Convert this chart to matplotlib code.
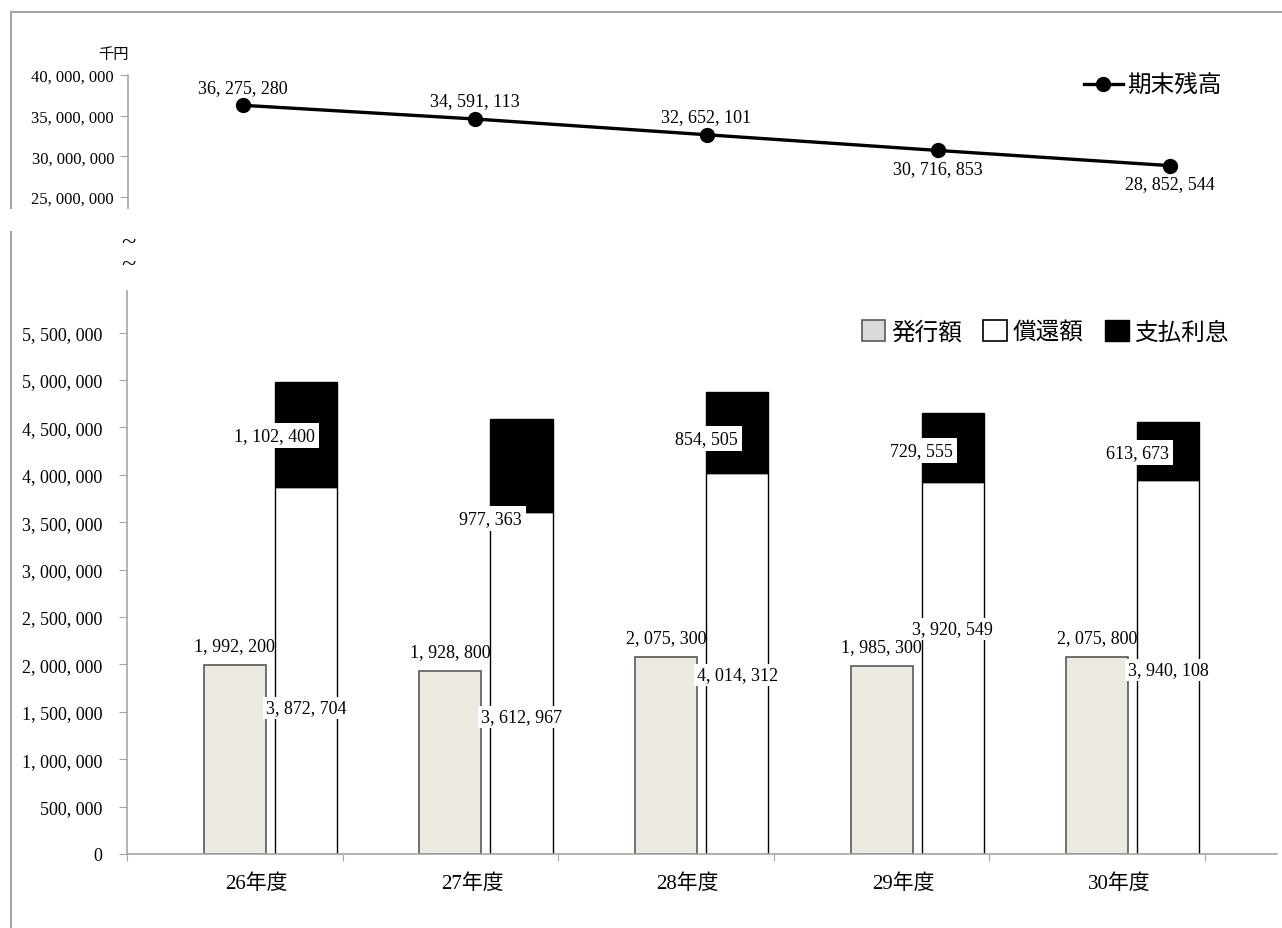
import matplotlib.pyplot as plt
from matplotlib.lines import Line2D
from matplotlib.patches import Patch, Rectangle

plt.rcParams['font.family'] = ['Liberation Serif', 'Noto Sans CJK JP']

years = ['26年度', '27年度', '28年度', '29年度', '30年度']
balance = [36275280, 34591113, 32652101, 30716853, 28852544]
issued = [1992200, 1928800, 2075300, 1985300, 2075800]
repaid = [3872704, 3612967, 4014312, 3920549, 3940108]
interest = [1102400, 977363, 854505, 729555, 613673]

# label heights were placed by hand in the original chart
repaid_label_y = [1541000, 1446000, 1890000, 2375000, 1942000]
interest_label_y = [4413000, 3536000, 4381000, 4254000, 4233000]
balance_label_pos = ['above', 'above', 'above', 'below', 'below']

gray = '#a6a6a6'


def fmt(v):
    return f'{v:,.0f}'.replace(',', ', ')


W, H = 1282, 929
fig = plt.figure(figsize=(W / 100, H / 100), dpi=100)

# outer frame (only left and top edges show)
fig.add_artist(Line2D([11 / W, 11 / W], [0, 1 - 13 / H], transform=fig.transFigure, color=gray, lw=1.5))
fig.add_artist(Line2D([11 / W, 1], [1 - 13 / H, 1 - 13 / H], transform=fig.transFigure, color=gray, lw=1.5))
fig.add_artist(Rectangle((5 / W, 1 - 232 / H), 130 / W, 22 / H, transform=fig.transFigure,
                         facecolor='white', edgecolor='none', zorder=5))

# ---- top: balance line ----
ax1 = fig.add_axes([128 / W, 1 - 210 / H, 1154 / W, 134 / H])
x = list(range(len(years)))
ax1.plot(x, balance, color='black', lw=2.4, marker='o', ms=10, label='期末残高')
ax1.set_xlim(-0.496, 4.483)
ax1.set_ylim(23.52e6, 40e6)
ticks1 = [25000000, 30000000, 35000000, 40000000]
ax1.set_yticks(ticks1)
ax1.set_yticklabels([fmt(t) for t in ticks1])
ax1.set_xticks([])
for s in ['top', 'right', 'bottom']:
    ax1.spines[s].set_visible(False)
ax1.spines['left'].set_color(gray)
ax1.spines['left'].set_linewidth(1.2)
ax1.tick_params(axis='y', direction='out', length=6, color=gray, labelsize=12, pad=4)
for i, v in enumerate(balance):
    dy = 13 if balance_label_pos[i] == 'above' else -13
    ax1.annotate(fmt(v), (i, v), xytext=(0, dy), textcoords='offset points',
                 ha='center', va='center', fontsize=13)
ax1.legend(loc='center right', bbox_to_anchor=(1222 / W, 1 - 87 / H), bbox_transform=fig.transFigure,
           frameon=False, fontsize=17, handlelength=1.65, handletextpad=0.2,
           borderpad=0, borderaxespad=0)

fig.text(113 / W, 1 - 55 / H, '千円', ha='center', va='center', fontsize=11)
# axis break marks
fig.text(128 / W, 1 - 243 / H, '~', ha='center', va='center', fontsize=19)
fig.text(128 / W, 1 - 265 / H, '~', ha='center', va='center', fontsize=19)

# ---- bottom: bars ----
ax2 = fig.add_axes([127 / W, 1 - 855 / H, 1150 / W, 563 / H])
w = 0.288
xl = [i for i in x]
xr = [i + 0.33 for i in x]
ax2.bar(xl, issued, w, color='#ece9e0', edgecolor='#595959', lw=1.2)
ax2.bar(xr, repaid, w, color='white', edgecolor='black', lw=1.0)
ax2.bar(xr, interest, w, bottom=repaid, color='black', edgecolor='black', lw=1.0)
ax2.set_xlim(-0.5, 4.834)
ax2.set_ylim(0, 5.939e6)
ticks2 = list(range(0, 5500001, 500000))
ax2.set_yticks(ticks2)
ax2.set_yticklabels([fmt(t) for t in ticks2])
ax2.set_xticks([i - 0.5 for i in range(len(years) + 1)])
ax2.set_xticklabels([])
ax2.set_xticks([i + 0.1 for i in x], minor=True)
ax2.set_xticklabels(years, minor=True)
for s in ['top', 'right']:
    ax2.spines[s].set_visible(False)
for s in ['left', 'bottom']:
    ax2.spines[s].set_color(gray)
    ax2.spines[s].set_linewidth(1.2)
ax2.tick_params(axis='y', direction='out', length=6, color=gray, labelsize=13, pad=12)
ax2.tick_params(axis='x', which='major', direction='out', length=5, color=gray)
ax2.tick_params(axis='x', which='minor', length=0, labelsize=15, pad=14)

for i in x:
    ax2.annotate(fmt(issued[i]), (xl[i], issued[i]), xytext=(0, 14), textcoords='offset points',
                 ha='center', va='center', fontsize=13)
    ax2.text(xr[i], repaid_label_y[i], fmt(repaid[i]), ha='center', va='center', fontsize=13,
             bbox=dict(facecolor='white', edgecolor='none', pad=2))
    ax2.text(xr[i] - w / 2, interest_label_y[i], fmt(interest[i]), ha='center', va='center', fontsize=13,
             bbox=dict(facecolor='white', edgecolor='none', pad=3))

handles = [Patch(facecolor='#d9d9d9', edgecolor='#595959', lw=1.2),
           Patch(facecolor='white', edgecolor='black', lw=1.2),
           Patch(facecolor='black', edgecolor='black')]
ax2.legend(handles, ['発行額', '償還額', '支払利息'], loc='center right',
           bbox_to_anchor=(1229 / W, 1 - 333 / H), bbox_transform=fig.transFigure,
           ncol=3, frameon=False, fontsize=17, handlelength=1.0, handleheight=1.0,
           handletextpad=0.25, columnspacing=0.9, borderpad=0, borderaxespad=0)

fig.savefig('out.png', dpi=100)
